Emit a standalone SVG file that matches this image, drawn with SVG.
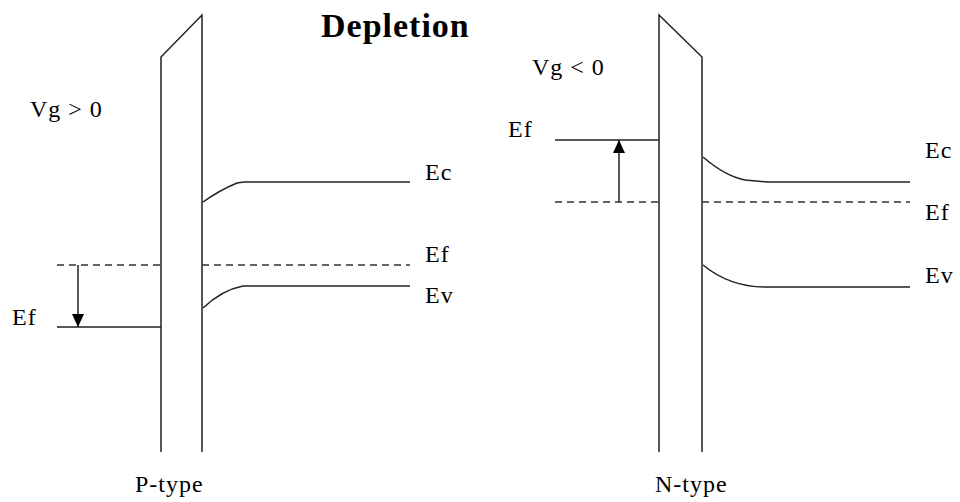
<svg xmlns="http://www.w3.org/2000/svg" width="960" height="502" viewBox="0 0 960 502">
<defs>
<marker id="ah" viewBox="0 0 10 10" refX="10" refY="5" markerWidth="13" markerHeight="12" markerUnits="userSpaceOnUse" orient="auto" preserveAspectRatio="none"><path d="M0,0 L10,5 L0,10 z" fill="#000"/></marker>
<style>
.l{stroke:#222;stroke-width:1.5;fill:none}
.d{stroke:#333;stroke-width:1.5;fill:none;stroke-dasharray:7,5}
.t{font-family:"Liberation Serif",serif;font-size:24px;letter-spacing:1px;fill:#000}
.h{font-family:"Liberation Serif",serif;font-size:34px;font-weight:bold;letter-spacing:1px;fill:#000}
</style>
</defs>
<rect width="960" height="502" fill="#fff"/>
<text class="h" x="321" y="37">Depletion</text>
<g id="p-type">
<path class="l" d="M161,452 V57 L202,15 V452"/>
<path class="l" d="M203,202 Q220,190 237,183 L244,182 H410"/>
<path class="d" d="M57,265 H161 M202,265 H410"/>
<path class="l" d="M203,308 Q222,290 243,286 H410"/>
<path class="l" d="M57,327 H161"/>
<line class="l" x1="78" y1="265" x2="78" y2="327" marker-end="url(#ah)"/>
<text class="t" x="30" y="117">Vg &gt; 0</text>
<text class="t" x="425" y="180">Ec</text>
<text class="t" x="425" y="262">Ef</text>
<text class="t" x="425" y="303">Ev</text>
<text class="t" x="12" y="325">Ef</text>
<text class="t" x="135" y="492">P-type</text>
</g>
<g id="n-type">
<path class="l" d="M659,452 V15 L702,57 V452"/>
<path class="l" d="M703,157 Q725,176 745,180 L768,182 H910"/>
<path class="d" d="M555,202 H659 M702,202 H910"/>
<path class="l" d="M703,265 Q730,287 765,287 H910"/>
<path class="l" d="M555,140 H659"/>
<line class="l" x1="619" y1="202" x2="619" y2="140" marker-end="url(#ah)"/>
<text class="t" x="532" y="75">Vg &lt; 0</text>
<text class="t" x="508" y="137">Ef</text>
<text class="t" x="925" y="158">Ec</text>
<text class="t" x="925" y="220">Ef</text>
<text class="t" x="925" y="283">Ev</text>
<text class="t" x="655" y="492">N-type</text>
</g>
</svg>
